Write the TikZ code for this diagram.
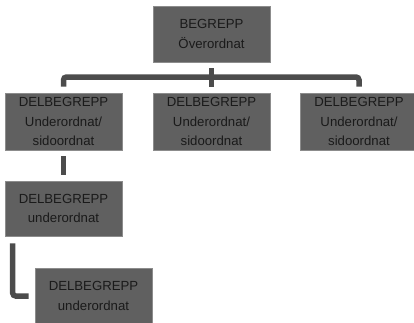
\documentclass[tikz,border=0pt]{standalone}
\usepackage{fontspec}
\setmainfont{Liberation Sans}
\usetikzlibrary{positioning}
\definecolor{boxgray}{HTML}{606060}
\definecolor{boxedge}{HTML}{8C8C8C}
\definecolor{linegray}{HTML}{4C4C4C}
\definecolor{textdark}{HTML}{1A1A1A}
\tikzset{
  concept/.style={draw=boxedge, line width=0.6pt, fill=boxgray, text=textdark,
    minimum width=117pt, minimum height=56pt, inner sep=0pt, align=center,
    font=\fontsize{13.2}{19.5}\selectfont},
  link/.style={draw=linegray, line width=5.5pt, rounded corners=3pt}
}

\begin{document}
\begin{tikzpicture}[x=1pt,y=-1pt]
  \useasboundingbox (0,0) rectangle (414,322);

  % boxes
  \node[concept] (top) at (211.5,34) {BEGREPP\\Överordnat};
  \node[concept, minimum height=57pt] (left) at (63.5,121.5) {DELBEGREPP\\Underordnat/\\sidoordnat};
  \node[concept, minimum height=57pt] (mid) at (211.5,121.5) {DELBEGREPP\\Underordnat/\\sidoordnat};
  \node[concept, minimum height=57pt] (right) at (359,121.5) {DELBEGREPP\\Underordnat/\\sidoordnat};
  \node[concept, minimum height=55pt] (under1) at (63.5,208.5) {DELBEGREPP\\underordnat};
  \node[concept] (under2) at (93.5,296) {DELBEGREPP\\underordnat};

  % connectors
  \coordinate (bus) at (211.5,77);
  \draw[link] ([yshift=-6pt]top.south) -- ([yshift=6pt]mid.north);
  \draw[link] ([yshift=6pt]left.north) |- (bus) -| ([yshift=6pt]right.north);
  \draw[link] ([yshift=-6pt]left.south) -- ([yshift=6pt]under1.north);
  \draw[link] ([xshift=8pt,yshift=-7pt]under1.south west) |- ([xshift=-6pt]under2.west);
\end{tikzpicture}
\end{document}
